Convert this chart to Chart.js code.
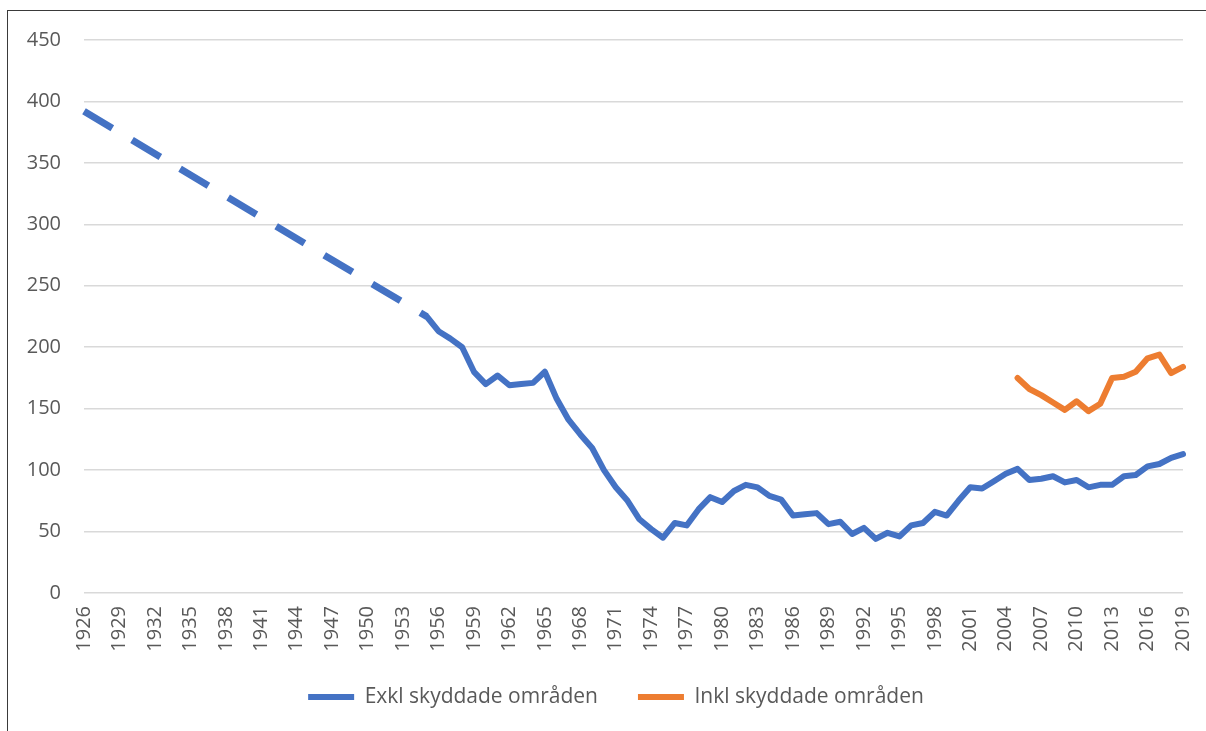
<!DOCTYPE html>
<html><head><meta charset="utf-8">
<script src="https://cdn.jsdelivr.net/npm/chart.js@4.4.1/dist/chart.umd.min.js"></script>
<style>
html,body{margin:0;padding:0;background:#fff;}
#wrap{position:relative;width:1206px;height:731px;overflow:hidden;background:#fff;}
#frame{position:absolute;left:7px;top:10px;width:1300px;height:800px;border-left:1.5px solid #3a3a3a;border-top:1.5px solid #3a3a3a;box-sizing:border-box;}
canvas{position:absolute;left:0;top:0;}
</style></head><body>
<div id="wrap"><div id="frame"></div><canvas id="c" width="1206" height="731"></canvas></div>
<script>
const years = ['1926','1927','1928','1929','1930','1931','1932','1933','1934','1935','1936','1937','1938','1939','1940','1941','1942','1943','1944','1945','1946','1947','1948','1949','1950','1951','1952','1953','1954','1955','1956','1957','1958','1959','1960','1961','1962','1963','1964','1965','1966','1967','1968','1969','1970','1971','1972','1973','1974','1975','1976','1977','1978','1979','1980','1981','1982','1983','1984','1985','1986','1987','1988','1989','1990','1991','1992','1993','1994','1995','1996','1997','1998','1999','2000','2001','2002','2003','2004','2005','2006','2007','2008','2009','2010','2011','2012','2013','2014','2015','2016','2017','2018','2019'];
const tickYears = ['1926','1929','1932','1935','1938','1941','1944','1947','1950','1953','1956','1959','1962','1965','1968','1971','1974','1977','1980','1983','1986','1989','1992','1995','1998','2001','2004','2007','2010','2013','2016','2019'];
const yTicks = [0,50,100,150,200,250,300,350,400,450];

const exklYears = ['1926','1955','1956','1957','1958','1959','1960','1961','1962','1963','1964','1965','1966','1967','1968','1969','1970','1971','1972','1973','1974','1975','1976','1977','1978','1979','1980','1981','1982','1983','1984','1985','1986','1987','1988','1989','1990','1991','1992','1993','1994','1995','1996','1997','1998','1999','2000','2001','2002','2003','2004','2005','2006','2007','2008','2009','2010','2011','2012','2013','2014','2015','2016','2017','2018','2019'];
const exklValues = [392,
  225,213,207,200,180,170,177,169,170,171,
  180,158,141,129,118,100,86,75,60,52,
  45,57,55,68,78,74,83,88,86,79,
  76,63,64,65,56,58,48,53,44,49,
  46,55,57,66,63,75,86,85,91,97,
  101,92,93,95,90,92,86,88,88,95,
  96,103,105,110,113];

const inklYears = ['2005','2006','2007','2008','2009','2010','2011','2012','2013','2014','2015','2016','2017','2018','2019'];
const inklValues = [175,166,161,155,149,156,148,154,175,176,180,191,194,179,184];

const seriesNames = ['Exkl skyddade områden','Inkl skyddade områden'];
const blue = '#4472C4', orange = '#ED7D31', textCol = '#595959';
const font = {family:"'Open Sans', 'Liberation Sans', sans-serif", size:20};
const legendFont = {family:"'Open Sans', 'Liberation Sans', sans-serif", size:21};

const exklData = exklYears.map((y,i)=>({x:y, y:exklValues[i]}));
const inklData = inklYears.map((y,i)=>({x:y, y:inklValues[i]}));
const isGap = ctx => Number(exklYears[ctx.p1DataIndex]) - Number(exklYears[ctx.p0DataIndex]) > 1;

// place the legend row like the original (centered at x≈616, row centre y≈697)
const legendPlacer = {
  id:'legendPlacer',
  afterLayout(chart){
    const lg = chart.legend;
    if(!lg) return;
    const centre = lg.bottom - 20.5;
    const dy = 697 - centre;
    lg.top += dy; lg.bottom += dy;
    lg.left = 49; lg.right = 1183;
  }
};

new Chart(document.getElementById('c'), {
  type:'line',
  data:{labels:years, datasets:[
    {label:seriesNames[0], data:exklData, borderColor:blue, backgroundColor:blue, borderWidth:6,
     pointRadius:0, pointHoverRadius:0, tension:0, fill:false,
     borderCapStyle:'round', borderJoinStyle:'round',
     segment:{
       borderDash: ctx => isGap(ctx) ? [33,23] : undefined,
       borderWidth: ctx => isGap(ctx) ? 7 : undefined,
       borderCapStyle: ctx => isGap(ctx) ? 'butt' : undefined
     }},
    {label:seriesNames[1], data:inklData, borderColor:orange, backgroundColor:orange, borderWidth:6,
     pointRadius:0, pointHoverRadius:0, tension:0, fill:false,
     borderCapStyle:'round', borderJoinStyle:'round'}
  ]},
  options:{
    responsive:false, animation:false,
    layout:{padding:{left:10,right:23,top:40,bottom:1}},
    plugins:{
      legend:{position:'bottom', labels:{usePointStyle:true, pointStyle:'line', pointStyleWidth:46,
        font:legendFont, color:textCol, padding:40}},
      tooltip:{enabled:false}
    },
    scales:{
      x:{
        grid:{display:false, drawTicks:false}, border:{display:false},
        ticks:{autoSkip:false, minRotation:90, maxRotation:90, padding:13, color:textCol, font:font,
          callback:function(v,i){const l = years[i]; return tickYears.includes(l) ? l : '';}},
        afterFit:function(s){s.height = 66; s.paddingLeft = 0; s.paddingRight = 0;}
      },
      y:{
        min:0, max:450,
        afterBuildTicks:function(s){s.ticks = yTicks.map(v=>({value:v}));},
        grid:{color:'#d9d9d9', lineWidth:1.5, drawTicks:false}, border:{display:false},
        ticks:{padding:23, color:textCol, font:font},
        afterFit:function(s){s.width = 74;}
      }
    }
  },
  plugins:[legendPlacer]
});
</script>
</body></html>
